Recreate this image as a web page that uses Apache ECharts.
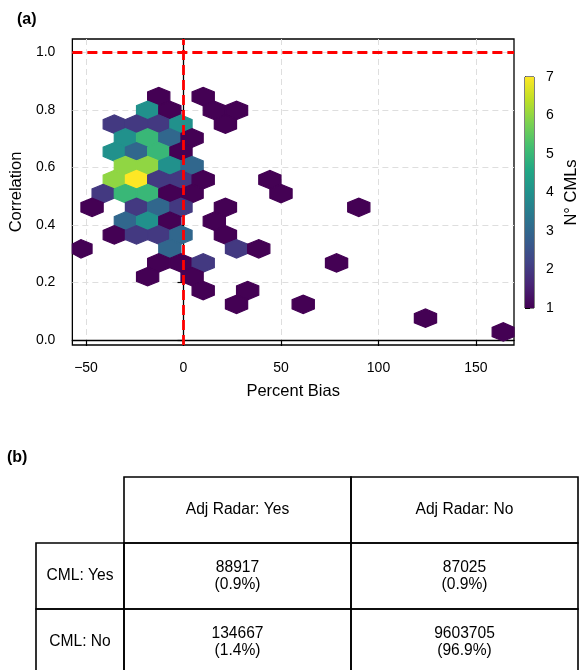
<!DOCTYPE html>
<html><head><meta charset="utf-8">
<script src="https://cdn.jsdelivr.net/npm/echarts@6/dist/echarts.min.js"></script>
<style>html,body{margin:0;padding:0;background:#fff}#c{width:581px;height:670px}</style>
</head><body><div id="c"></div>
<script>
// ---- data (hexbin centres, counts) ----
const binX = [
  -12.7, 10.1,
  -18.4, -7.0, 15.8, 27.2,
  -35.5, -24.1, -12.7, -1.3, 21.5,
  -29.8, -18.4, -7.0, 4.4,
  -35.5, -24.1, -12.7, -1.3,
  -29.8, -18.4, -7.0, 4.4,
  -35.5, -24.1, -12.7, -1.3, 10.1, 44.3,
  -41.2, -29.8, -18.4, -7.0, 4.4, 50.0,
  -46.9, -24.1, -12.7, -1.3, 21.5, 89.9,
  -29.8, -18.4, -7.0, 15.8,
  -35.5, -24.1, -12.7, -1.3, 21.5,
  -52.6, -7.0, 27.2, 38.6,
  -12.7, -1.3, 10.1, 78.5,
  -18.4, 4.4,
  10.1, 32.9,
  27.2, 61.4,
  124.1,
  164.0
];
const binY = [
  0.846, 0.846,
  0.798, 0.798, 0.798, 0.798,
  0.750, 0.750, 0.750, 0.750, 0.750,
  0.702, 0.702, 0.702, 0.702,
  0.654, 0.654, 0.654, 0.654,
  0.606, 0.606, 0.606, 0.606,
  0.557, 0.557, 0.557, 0.557, 0.557, 0.557,
  0.509, 0.509, 0.509, 0.509, 0.509, 0.509,
  0.461, 0.461, 0.461, 0.461, 0.461, 0.461,
  0.413, 0.413, 0.413, 0.413,
  0.365, 0.365, 0.365, 0.365, 0.365,
  0.317, 0.317, 0.317, 0.317,
  0.268, 0.268, 0.268, 0.268,
  0.220, 0.220,
  0.172, 0.172,
  0.124, 0.124,
  0.076,
  0.028
];
const binCount = [
  1, 1,
  4, 1, 1, 1,
  2, 2, 2, 4, 1,
  4, 5, 3, 1,
  4, 3, 5, 1,
  6, 6, 4, 3,
  6, 7, 2, 2, 1, 1,
  2, 5, 5, 1, 1, 1,
  1, 2, 3, 2, 1, 1,
  3, 4, 1, 1,
  1, 2, 2, 3, 1,
  1, 3, 2, 1,
  1, 1, 2, 1,
  1, 1,
  1, 1,
  1, 1,
  1,
  1
];
const xTicks = [-50, 0, 50, 100, 150];
const yTicks = [0, 0.2, 0.4, 0.6, 0.8, 1.0];
const cbTicks = [1, 2, 3, 4, 5, 6, 7];
const refLineX = 0;
const refLineY = 1.0;
const tableColLabels = ['Adj Radar: Yes', 'Adj Radar: No'];
const tableRowLabels = ['CML: Yes', 'CML: No'];
const tableCounts = [[88917, 87025], [134667, 9603705]];
const tablePercents = [['0.9%', '0.9%'], ['1.4%', '96.9%']];

// ---- layout / style ----
const FONT = "'Liberation Sans', Arial, sans-serif";
const hexStepX = 11.4, hexStepY = 0.0963;
const viridis = ['#440154','#482475','#414487','#355f8d','#2a788e','#21918c','#22a884','#44bf70','#7ad151','#bddf26','#fde725'];
const fmtMinus = v => (v < 0 ? '\u2212' : '') + Math.abs(v);

const hexData = binX.map((x, i) => [x, binY[i], binCount[i]]);

function hexRender(params, api) {
  const c = api.coord([api.value(0), api.value(1)]);
  const s = api.size([hexStepX, hexStepY]);
  const w = s[0] / 2, h = s[1] / 3, h2 = s[1] / 6;
  let pts = [[c[0]+w, c[1]-h2],[c[0]+w, c[1]+h2],[c[0], c[1]+h],[c[0]-w, c[1]+h2],[c[0]-w, c[1]-h2],[c[0], c[1]-h]];
  const cs = params.coordSys;
  pts = echarts.graphic.clipPointsByRect(pts, {x: cs.x, y: cs.y, width: cs.width, height: cs.height});
  const col = api.visual('color');
  return {type: 'polygon', shape: {points: pts}, style: {fill: col, stroke: col, lineWidth: 1.2}};
}

function cbRender(params, api) {
  const p0 = api.coord([0, cbTicks[0]]);
  const p1 = api.coord([1, cbTicks[cbTicks.length - 1]]);
  const stops = viridis.map((c, i) => ({offset: i / (viridis.length - 1), color: c}));
  return {type: 'rect', shape: {x: p0[0], y: p1[1], width: p1[0] - p0[0], height: p0[1] - p1[1]},
    style: {fill: new echarts.graphic.LinearGradient(0, 1, 0, 0, stops)}};
}

// ---- table graphics ----
const colEdges = [36, 124, 351, 578];
const rowEdges = [477, 543, 609, 675];
const tableGraphics = [];
const lineStyle = {stroke: '#000', lineWidth: 1.6, fill: 'none'};
const TFONT = '15.6px ' + FONT;
for (let j = 0; j < tableColLabels.length; j++) {
  const x0 = colEdges[j + 1], x1 = colEdges[j + 2];
  tableGraphics.push({type: 'rect', shape: {x: x0, y: rowEdges[0], width: x1 - x0, height: rowEdges[1] - rowEdges[0]}, style: lineStyle});
  tableGraphics.push({type: 'text', x: (x0 + x1) / 2, y: (rowEdges[0] + rowEdges[1]) / 2,
    style: {text: tableColLabels[j], font: TFONT, fill: '#000', align: 'center', verticalAlign: 'middle'}});
}
for (let i = 0; i < tableRowLabels.length; i++) {
  const y0 = rowEdges[i + 1], y1 = rowEdges[i + 2];
  tableGraphics.push({type: 'rect', shape: {x: colEdges[0], y: y0, width: colEdges[1] - colEdges[0], height: y1 - y0}, style: lineStyle});
  tableGraphics.push({type: 'text', x: (colEdges[0] + colEdges[1]) / 2, y: (y0 + y1) / 2,
    style: {text: tableRowLabels[i], font: TFONT, fill: '#000', align: 'center', verticalAlign: 'middle'}});
  for (let j = 0; j < tableColLabels.length; j++) {
    const x0 = colEdges[j + 1], x1 = colEdges[j + 2];
    tableGraphics.push({type: 'rect', shape: {x: x0, y: y0, width: x1 - x0, height: y1 - y0}, style: lineStyle});
    tableGraphics.push({type: 'text', x: (x0 + x1) / 2, y: (y0 + y1) / 2,
      style: {text: tableCounts[i][j] + '\n(' + tablePercents[i][j] + ')', font: TFONT, lineHeight: 17,
        fill: '#000', align: 'center', verticalAlign: 'middle'}});
  }
}

const chart = echarts.init(document.getElementById('c'), null, {renderer: 'canvas'});
chart.setOption({
  animation: false,
  backgroundColor: '#fff',
  textStyle: {fontFamily: FONT},
  grid: [
    {left: 71, top: 39, width: 443, height: 306, show: true, borderColor: '#000', borderWidth: 1.3, backgroundColor: 'transparent'},
    {left: 525, top: 77, width: 12, height: 231, show: true, borderColor: '#000', borderWidth: 1}
  ],
  xAxis: [
    {gridIndex: 0, type: 'value', min: -57, max: 169.5,
      name: 'Percent Bias', nameLocation: 'middle', nameGap: 38,
      nameTextStyle: {fontSize: 16.5, color: '#000', fontFamily: FONT},
      axisLine: {show: true, lineStyle: {color: '#000', width: 1.3}},
      axisTick: {show: true, customValues: xTicks, length: 6, lineStyle: {color: '#000', width: 1.2}},
      axisLabel: {customValues: xTicks, formatter: fmtMinus, fontSize: 14, color: '#000', margin: 16, fontFamily: FONT},
      splitLine: {show: true, lineStyle: {color: '#dedede', width: 1, type: [6, 4]}}},
    {gridIndex: 1, type: 'value', min: 0, max: 1, show: false}
  ],
  yAxis: [
    {gridIndex: 0, type: 'value', min: -0.0173, max: 1.046,
      name: 'Correlation', nameLocation: 'middle', nameGap: 41, nameRotate: 90,
      nameTextStyle: {fontSize: 16.5, color: '#000', fontFamily: FONT},
      axisLine: {show: true, lineStyle: {color: '#000', width: 1.3}},
      axisTick: {show: true, customValues: yTicks, length: 6, lineStyle: {color: '#000', width: 1.2}},
      axisLabel: {customValues: yTicks, formatter: v => v.toFixed(1), fontSize: 14, color: '#000', margin: 17, fontFamily: FONT},
      splitLine: {show: true, lineStyle: {color: '#dedede', width: 1, type: [6, 4]}}},
    {gridIndex: 1, type: 'value', min: 1, max: 7, interval: 1, position: 'right',
      name: 'N\u00b0 CMLs', nameLocation: 'middle', nameGap: 29, nameRotate: 90,
      nameTextStyle: {fontSize: 16.5, color: '#000', fontFamily: FONT},
      axisLine: {show: true, lineStyle: {color: '#000', width: 1}},
      axisTick: {show: true, length: 5, lineStyle: {color: '#000', width: 1}},
      axisLabel: {fontSize: 14, color: '#000', margin: 12, fontFamily: FONT},
      splitLine: {show: false}}
  ],
  visualMap: {type: 'continuous', show: false, min: 1, max: 7, dimension: 2, seriesIndex: 0,
    inRange: {color: viridis}},
  series: [
    {type: 'custom', xAxisIndex: 0, yAxisIndex: 0, data: hexData, renderItem: hexRender, silent: true,
      encode: {x: 0, y: 1},
      markLine: {silent: true, symbol: ['none', 'none'], label: {show: false}, animation: false,
        lineStyle: {color: '#ff0000', width: 2.8, type: [10, 5]},
        data: [{xAxis: refLineX}, {yAxis: refLineY}]}},
    {type: 'custom', xAxisIndex: 1, yAxisIndex: 1, data: [[0, 1]], renderItem: cbRender, silent: true, z: 1}
  ],
  graphic: [
    {type: 'text', left: 17, top: 12, style: {text: '(a)', font: 'bold 16px ' + FONT, fill: '#000'}},
    {type: 'text', left: 7, top: 450, style: {text: '(b)', font: 'bold 16px ' + FONT, fill: '#000'}}
  ].concat(tableGraphics)
});
</script></body></html>
